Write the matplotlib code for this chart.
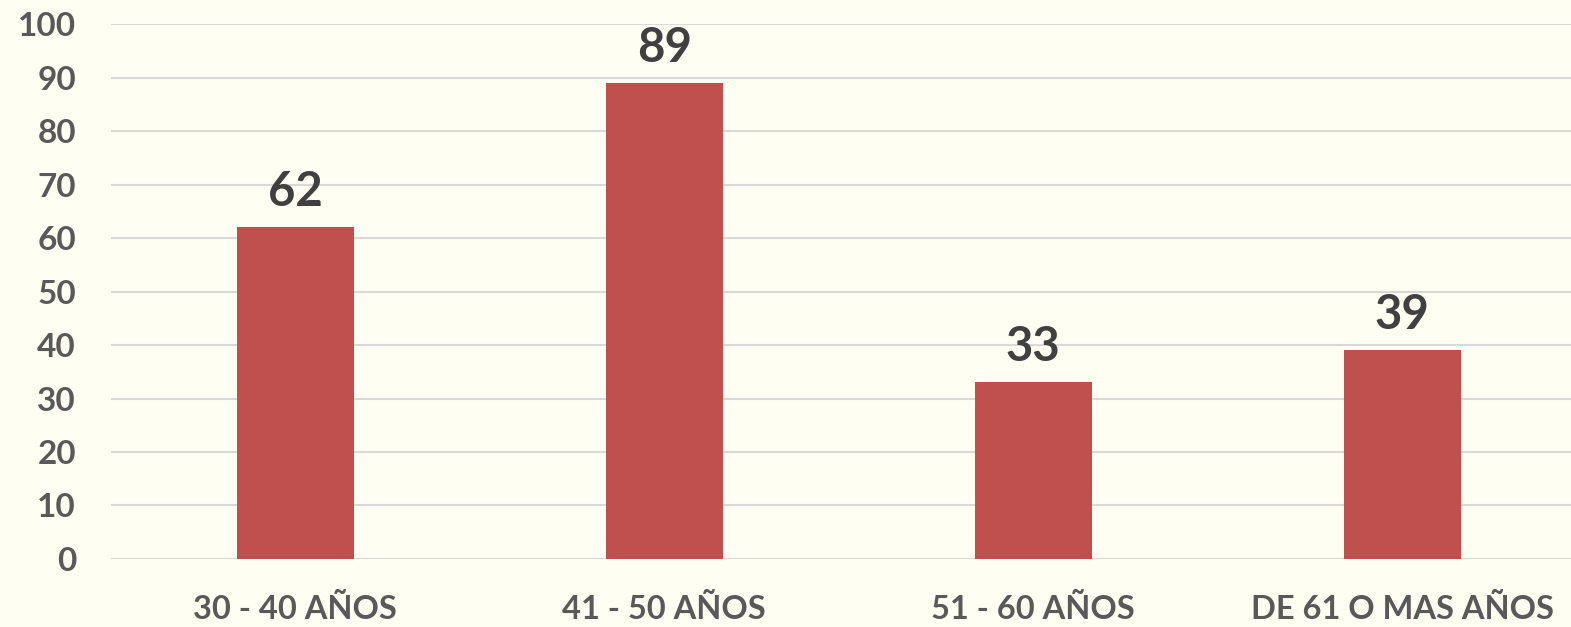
import matplotlib.pyplot as plt

# datos
categorias = ['30 - 40 AÑOS', '41 - 50 AÑOS', '51 - 60 AÑOS', 'DE 61 O MAS AÑOS']
valores = [62, 89, 33, 39]
yticks = list(range(0, 101, 10))

fondo = '#FEFEF3'
plt.rcParams['font.family'] = ['Lato', 'DejaVu Sans']

fig = plt.figure(figsize=(15.71, 6.27), dpi=100, facecolor=fondo)
ax = fig.add_axes([0.0705, 0.1085, 0.9395, 0.853])
ax.set_facecolor(fondo)

x = list(range(len(categorias)))
ax.bar(x, valores, width=0.317, color='#C0504D', zorder=3)

for xi, v in zip(x, valores):
    ax.text(xi, v + 2.5, str(v), ha='center', va='bottom',
            fontsize=34, fontweight='bold', color='#404040')

ax.set_xlim(-0.5, 3.5)
ax.set_ylim(0, 100)
ax.set_yticks(yticks)
ax.set_xticks(x)
ax.set_xticklabels(categorias)
ax.grid(axis='y', color='#D9D9D9', linewidth=1.5, zorder=0)
ax.tick_params(length=0, labelcolor='#595959')
ax.tick_params(axis='y', pad=25, labelsize=24)
ax.tick_params(axis='x', pad=25, labelsize=23.5)
for lab in ax.get_xticklabels() + ax.get_yticklabels():
    lab.set_fontweight('bold')
for s in ax.spines.values():
    s.set_visible(False)

fig.savefig('out.png', dpi=100, facecolor=fondo)
